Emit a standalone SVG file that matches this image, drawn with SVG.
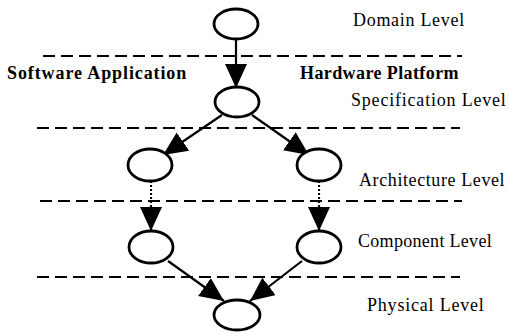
<svg xmlns="http://www.w3.org/2000/svg" width="509" height="332" viewBox="0 0 509 332">
<defs>
<style>
.n{fill:#fff;stroke:#000;stroke-width:2.8}
.d{stroke:#000;stroke-width:2.2;stroke-dasharray:12 6;fill:none}
.a{stroke:#000;stroke-width:2.2;fill:none;marker-end:url(#ah)}
.ad{stroke:#000;stroke-width:2.2;stroke-dasharray:2 2;fill:none;marker-end:url(#ah)}
</style>
<marker id="ah" markerUnits="userSpaceOnUse" markerWidth="26" markerHeight="24" refX="24" refY="11" orient="auto">
<path d="M0,0 L24,11 L0,22 Z" fill="#000"/>
</marker>
</defs>
<rect width="509" height="332" fill="#fff"/>
<g id="levels">
<line class="d" x1="43" y1="56" x2="462" y2="56"/>
<line class="d" x1="37" y1="128" x2="460" y2="128"/>
<line class="d" x1="40" y1="201" x2="462" y2="201"/>
<line class="d" x1="37" y1="277" x2="460" y2="277"/>
</g>
<g id="connectors">
<line class="a" x1="236" y1="39" x2="236" y2="88"/>
<line class="a" x1="222" y1="115" x2="163" y2="155"/>
<line class="a" x1="252" y1="115" x2="309" y2="155"/>
<line class="ad" x1="151" y1="181" x2="151" y2="231"/>
<line class="ad" x1="319" y1="181" x2="319" y2="231"/>
<line class="a" x1="168" y1="261" x2="224" y2="301"/>
<line class="a" x1="302" y1="261" x2="250" y2="301"/>
</g>
<g id="n0"><ellipse class="n" cx="236" cy="24" rx="22" ry="15"/></g>
<g id="n1"><ellipse class="n" cx="237" cy="102" rx="22" ry="15"/></g>
<g id="n2"><ellipse class="n" cx="150" cy="165" rx="22" ry="16"/></g>
<g id="n3"><ellipse class="n" cx="319" cy="165" rx="22" ry="16"/></g>
<g id="n4"><ellipse class="n" cx="151" cy="247" rx="22" ry="16"/></g>
<g id="n5"><ellipse class="n" cx="319" cy="247" rx="22" ry="16"/></g>
<g id="n6"><ellipse class="n" cx="237" cy="315" rx="23" ry="15"/></g>
<g id="labels" font-family="Liberation Serif, Times New Roman, serif" font-size="18" fill="#000">
<text x="353" y="26" letter-spacing="0.7">Domain Level</text>
<text x="7" y="79" font-weight="bold" letter-spacing="0.9">Software Application</text>
<text x="300" y="79" font-weight="bold" letter-spacing="0.4">Hardware Platform</text>
<text x="351" y="106" letter-spacing="0.8">Specification Level</text>
<text x="359" y="186" letter-spacing="0.6">Architecture Level</text>
<text x="358" y="247" letter-spacing="0.3">Component Level</text>
<text x="367" y="311" letter-spacing="0.8">Physical Level</text>
</g>
</svg>
